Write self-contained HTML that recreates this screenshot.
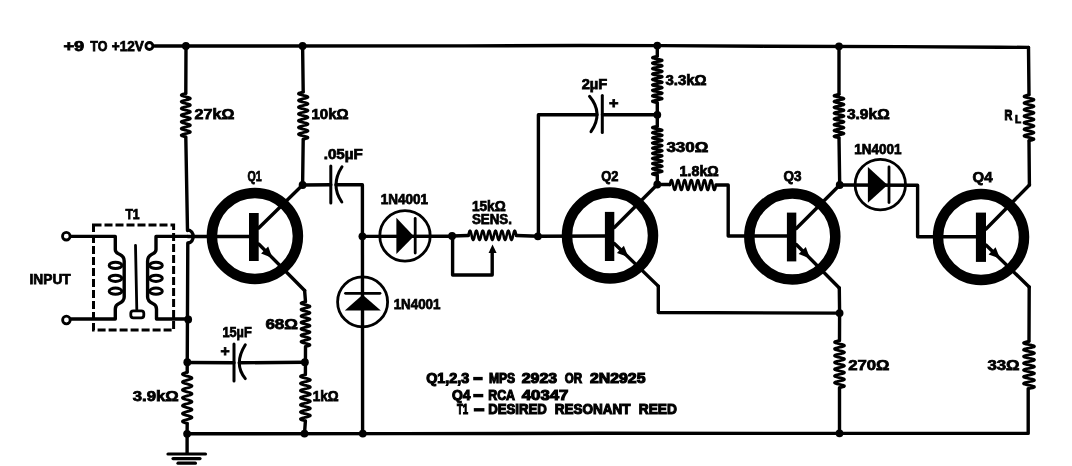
<!DOCTYPE html>
<html><head><meta charset="utf-8"><style>
html,body{margin:0;padding:0;background:#fff;}
body{width:1072px;height:466px;overflow:hidden;}
svg{display:block;filter:blur(0.4px);}
text{font-family:"Liberation Sans",sans-serif;fill:#000;}
</style></head><body>
<svg width="1072" height="466" viewBox="0 0 1072 466">
<rect width="1072" height="466" fill="#fff"/>
<path d="M154.5,46.0 L465.0,45.9 L580.0,45.5 L660.0,45.6 L765.0,46.2 L900.0,46.6 L1000.0,47.2 L1028.5,47.4" fill="none" stroke="#000" stroke-width="3.4" stroke-linejoin="round" stroke-linecap="round" />
<circle cx="149.4" cy="46" r="3.5" fill="none" stroke="#000" stroke-width="2.8"/>
<circle cx="185.9" cy="46" r="3.9" fill="#000"/>
<circle cx="302.6" cy="46" r="3.9" fill="#000"/>
<circle cx="657.3" cy="45.6" r="3.9" fill="#000"/>
<circle cx="839" cy="46.3" r="3.9" fill="#000"/>
<path d="M186.0,46.0 L185.8,93.4" fill="none" stroke="#000" stroke-width="3.4" stroke-linejoin="round" stroke-linecap="round" />
<path d="M185.80,93.40 L184.26,93.76 L182.91,94.13 L181.88,94.49 L181.30,94.85 L181.24,95.22 L181.70,95.58 L182.63,95.94 L183.93,96.31 L185.44,96.67 L186.99,97.03 L188.41,97.40 L189.52,97.76 L190.21,98.12 L190.39,98.49 L190.05,98.85 L189.22,99.21 L187.99,99.58 L186.52,99.94 L184.96,100.30 L183.50,100.67 L182.30,101.03 L181.51,101.39 L181.20,101.76 L181.43,102.12 L182.15,102.48 L183.29,102.85 L184.73,103.21 L186.28,103.57 L187.78,103.94 L189.05,104.30 L189.95,104.66 L190.37,105.03 L190.27,105.39 L189.66,105.75 L188.60,106.12 L187.22,106.48 L185.68,106.84 L184.15,107.21 L182.81,107.57 L181.82,107.93 L181.28,108.30 L181.26,108.66 L181.76,109.02 L182.72,109.39 L184.04,109.75 L185.56,110.11 L187.11,110.48 L188.50,110.84 L189.59,111.20 L190.24,111.57 L190.39,111.93 L190.00,112.29 L189.14,112.66 L187.89,113.02 L186.40,113.38 L184.84,113.75 L183.40,114.11 L182.23,114.47 L181.46,114.84 L181.20,115.20 L181.46,115.56 L182.23,115.93 L183.40,116.29 L184.84,116.65 L186.40,117.02 L187.89,117.38 L189.14,117.74 L190.00,118.11 L190.39,118.47 L190.24,118.83 L189.59,119.20 L188.50,119.56 L187.11,119.92 L185.56,120.29 L184.04,120.65 L182.72,121.01 L181.76,121.38 L181.26,121.74 L181.28,122.10 L181.82,122.47 L182.81,122.83 L184.15,123.19 L185.68,123.56 L187.22,123.92 L188.60,124.28 L189.66,124.65 L190.27,125.01 L190.37,125.37 L189.95,125.74 L189.05,126.10 L187.78,126.46 L186.28,126.83 L184.73,127.19 L183.29,127.55 L182.15,127.92 L181.43,128.28 L181.20,128.64 L181.51,129.01 L182.30,129.37 L183.50,129.73 L184.96,130.10 L186.52,130.46 L187.99,130.82 L189.22,131.19 L190.05,131.55 L190.39,131.91 L190.21,132.28 L189.52,132.64 L188.41,133.00 L186.99,133.37 L185.44,133.73 L183.93,134.09 L182.63,134.46 L181.70,134.82 L181.24,135.18 L181.30,135.55 L181.88,135.91 L182.91,136.27 L184.26,136.64 L185.80,137.00" fill="none" stroke="#000" stroke-width="2.8" stroke-linejoin="round" stroke-linecap="round"/>
<path d="M185.8,137.0 L187.5,230.5" fill="none" stroke="#000" stroke-width="3.4" stroke-linejoin="round" stroke-linecap="round" />
<path d="M187.5,230 C195,230 195,243 187.8,243" fill="none" stroke="#000" stroke-width="3.4"/>
<path d="M187.8,243.0 L187.2,372.2" fill="none" stroke="#000" stroke-width="3.4" stroke-linejoin="round" stroke-linecap="round" />
<path d="M187.20,372.20 L185.60,372.63 L184.18,373.05 L183.11,373.48 L182.50,373.91 L182.44,374.33 L182.92,374.76 L183.90,375.19 L185.25,375.61 L186.82,376.04 L188.44,376.47 L189.92,376.89 L191.08,377.32 L191.80,377.75 L191.99,378.17 L191.63,378.60 L190.77,379.03 L189.49,379.45 L187.95,379.88 L186.33,380.31 L184.80,380.73 L183.55,381.16 L182.72,381.59 L182.40,382.01 L182.63,382.44 L183.39,382.87 L184.59,383.29 L186.08,383.72 L187.70,384.15 L189.27,384.57 L190.59,385.00 L191.53,385.43 L191.97,385.85 L191.87,386.28 L191.23,386.71 L190.12,387.13 L188.68,387.56 L187.07,387.99 L185.48,388.41 L184.08,388.84 L183.04,389.27 L182.48,389.69 L182.46,390.12 L182.98,390.55 L183.99,390.97 L185.36,391.40 L186.95,391.83 L188.56,392.25 L190.02,392.68 L191.16,393.11 L191.84,393.53 L191.99,393.96 L191.59,394.39 L190.68,394.81 L189.38,395.24 L187.83,395.67 L186.20,396.09 L184.69,396.52 L183.47,396.95 L182.68,397.37 L182.40,397.80 L182.68,398.23 L183.47,398.65 L184.69,399.08 L186.20,399.51 L187.83,399.93 L189.38,400.36 L190.68,400.79 L191.59,401.21 L191.99,401.64 L191.84,402.07 L191.16,402.49 L190.02,402.92 L188.56,403.35 L186.95,403.77 L185.36,404.20 L183.99,404.63 L182.98,405.05 L182.46,405.48 L182.48,405.91 L183.04,406.33 L184.08,406.76 L185.48,407.19 L187.07,407.61 L188.68,408.04 L190.12,408.47 L191.23,408.89 L191.87,409.32 L191.97,409.75 L191.53,410.17 L190.59,410.60 L189.27,411.03 L187.70,411.45 L186.08,411.88 L184.59,412.31 L183.39,412.73 L182.63,413.16 L182.40,413.59 L182.72,414.01 L183.55,414.44 L184.80,414.87 L186.33,415.29 L187.95,415.72 L189.49,416.15 L190.77,416.57 L191.63,417.00 L191.99,417.43 L191.80,417.85 L191.08,418.28 L189.92,418.71 L188.44,419.13 L186.82,419.56 L185.25,419.99 L183.90,420.41 L182.92,420.84 L182.44,421.27 L182.50,421.69 L183.11,422.12 L184.18,422.55 L185.60,422.97 L187.20,423.40" fill="none" stroke="#000" stroke-width="2.8" stroke-linejoin="round" stroke-linecap="round"/>
<path d="M187.2,423.4 L187.1,433.8 L187.1,453.0" fill="none" stroke="#000" stroke-width="3.4" stroke-linejoin="round" stroke-linecap="round" />
<circle cx="188.2" cy="319.5" r="3.9" fill="#000"/>
<circle cx="187.3" cy="362.2" r="3.9" fill="#000"/>
<circle cx="187.1" cy="433.8" r="3.9" fill="#000"/>
<path d="M168.0,454.0 L205.5,454.0" fill="none" stroke="#000" stroke-width="3.2" stroke-linejoin="round" stroke-linecap="round" />
<path d="M173.0,458.6 L200.0,458.6" fill="none" stroke="#000" stroke-width="3.2" stroke-linejoin="round" stroke-linecap="round" />
<path d="M178.0,463.2 L195.4,463.2" fill="none" stroke="#000" stroke-width="3.2" stroke-linejoin="round" stroke-linecap="round" />
<path d="M187.1,433.8 L400.0,433.6 L600.0,433.3 L1028.2,433.4 L1028.2,388.6" fill="none" stroke="#000" stroke-width="3.4" stroke-linejoin="round" stroke-linecap="round" />
<circle cx="254.9" cy="236" r="43" fill="none" stroke="#000" stroke-width="10.5"/>
<rect x="249" y="213" width="9.699999999999989" height="48" fill="#000"/>
<path d="M258.7,228.0 L302.6,185.0" fill="none" stroke="#000" stroke-width="3.4" stroke-linejoin="round" stroke-linecap="round" />
<path d="M258.7,244.0 L304.6,290.5" fill="none" stroke="#000" stroke-width="3.4" stroke-linejoin="round" stroke-linecap="round" />
<path d="M272.4,257.9 L261.1,253.6 L268.2,246.5 Z" fill="#000"/>
<path d="M187.8,236.5 L249.0,236.5" fill="none" stroke="#000" stroke-width="3.4" stroke-linejoin="round" stroke-linecap="round" />
<path d="M302.6,46.0 L303.2,92.0" fill="none" stroke="#000" stroke-width="3.4" stroke-linejoin="round" stroke-linecap="round" />
<path d="M303.20,92.00 L301.48,92.39 L299.99,92.79 L298.92,93.18 L298.43,93.58 L298.56,93.97 L299.32,94.36 L300.59,94.76 L302.20,95.15 L303.95,95.55 L305.60,95.94 L306.93,96.34 L307.77,96.73 L307.99,97.12 L307.59,97.52 L306.59,97.91 L305.15,98.31 L303.45,98.70 L301.72,99.09 L300.18,99.49 L299.04,99.88 L298.46,100.28 L298.50,100.67 L299.17,101.07 L300.38,101.46 L301.96,101.85 L303.70,102.25 L305.38,102.64 L306.77,103.04 L307.68,103.43 L308.00,103.83 L307.68,104.22 L306.77,104.61 L305.38,105.01 L303.70,105.40 L301.96,105.80 L300.38,106.19 L299.17,106.58 L298.50,106.98 L298.46,107.37 L299.04,107.77 L300.18,108.16 L301.72,108.56 L303.45,108.95 L305.15,109.34 L306.59,109.74 L307.59,110.13 L307.99,110.53 L307.77,110.92 L306.93,111.31 L305.60,111.71 L303.95,112.10 L302.20,112.50 L300.59,112.89 L299.32,113.29 L298.56,113.68 L298.43,114.07 L298.92,114.47 L299.99,114.86 L301.48,115.26 L303.20,115.65 L304.92,116.04 L306.41,116.44 L307.48,116.83 L307.97,117.23 L307.84,117.62 L307.08,118.02 L305.81,118.41 L304.20,118.80 L302.45,119.20 L300.80,119.59 L299.47,119.99 L298.63,120.38 L298.41,120.77 L298.81,121.17 L299.81,121.56 L301.25,121.96 L302.95,122.35 L304.68,122.75 L306.22,123.14 L307.36,123.53 L307.94,123.93 L307.90,124.32 L307.23,124.72 L306.02,125.11 L304.44,125.50 L302.70,125.90 L301.02,126.29 L299.63,126.69 L298.72,127.08 L298.40,127.48 L298.72,127.87 L299.63,128.26 L301.02,128.66 L302.70,129.05 L304.44,129.45 L306.02,129.84 L307.23,130.23 L307.90,130.63 L307.94,131.02 L307.36,131.42 L306.22,131.81 L304.68,132.21 L302.95,132.60 L301.25,132.99 L299.81,133.39 L298.81,133.78 L298.41,134.18 L298.63,134.57 L299.47,134.96 L300.80,135.36 L302.45,135.75 L304.20,136.15 L305.81,136.54 L307.08,136.94 L307.84,137.33 L307.97,137.72 L307.48,138.12 L306.41,138.51 L304.92,138.91 L303.20,139.30" fill="none" stroke="#000" stroke-width="2.8" stroke-linejoin="round" stroke-linecap="round"/>
<path d="M303.2,139.3 L302.6,185.0" fill="none" stroke="#000" stroke-width="3.4" stroke-linejoin="round" stroke-linecap="round" />
<circle cx="302.6" cy="185" r="3.9" fill="#000"/>
<path d="M304.6,290.5 L305.5,301.6" fill="none" stroke="#000" stroke-width="3.4" stroke-linejoin="round" stroke-linecap="round" />
<path d="M305.50,301.60 L303.89,301.98 L302.49,302.35 L301.49,302.73 L301.02,303.10 L301.15,303.48 L301.86,303.85 L303.05,304.23 L304.56,304.60 L306.20,304.98 L307.75,305.35 L309.00,305.73 L309.78,306.10 L309.99,306.48 L309.61,306.85 L308.68,307.23 L307.33,307.60 L305.74,307.98 L304.11,308.35 L302.67,308.73 L301.60,309.10 L301.06,309.48 L301.10,309.85 L301.73,310.23 L302.85,310.60 L304.34,310.98 L305.97,311.35 L307.54,311.73 L308.84,312.10 L309.70,312.48 L310.00,312.85 L309.70,313.23 L308.84,313.60 L307.54,313.98 L305.97,314.35 L304.34,314.73 L302.85,315.10 L301.73,315.48 L301.10,315.85 L301.06,316.23 L301.60,316.60 L302.67,316.98 L304.11,317.35 L305.74,317.73 L307.33,318.10 L308.68,318.48 L309.61,318.85 L309.99,319.23 L309.78,319.60 L309.00,319.98 L307.75,320.35 L306.20,320.73 L304.56,321.10 L303.05,321.48 L301.86,321.85 L301.15,322.23 L301.02,322.60 L301.49,322.98 L302.49,323.35 L303.89,323.73 L305.50,324.10 L307.11,324.48 L308.51,324.85 L309.51,325.23 L309.98,325.60 L309.85,325.98 L309.14,326.35 L307.95,326.73 L306.44,327.10 L304.80,327.48 L303.25,327.85 L302.00,328.23 L301.22,328.60 L301.01,328.98 L301.39,329.35 L302.32,329.73 L303.67,330.10 L305.26,330.48 L306.89,330.85 L308.33,331.23 L309.40,331.60 L309.94,331.98 L309.90,332.35 L309.27,332.73 L308.15,333.10 L306.66,333.48 L305.03,333.85 L303.46,334.23 L302.16,334.60 L301.30,334.98 L301.00,335.35 L301.30,335.73 L302.16,336.10 L303.46,336.48 L305.03,336.85 L306.66,337.23 L308.15,337.60 L309.27,337.98 L309.90,338.35 L309.94,338.73 L309.40,339.10 L308.33,339.48 L306.89,339.85 L305.26,340.23 L303.67,340.60 L302.32,340.98 L301.39,341.35 L301.01,341.73 L301.22,342.10 L302.00,342.48 L303.25,342.85 L304.80,343.23 L306.44,343.60 L307.95,343.98 L309.14,344.35 L309.85,344.73 L309.98,345.10 L309.51,345.48 L308.51,345.85 L307.11,346.23 L305.50,346.60" fill="none" stroke="#000" stroke-width="2.8" stroke-linejoin="round" stroke-linecap="round"/>
<path d="M305.5,346.6 L305.4,374.6" fill="none" stroke="#000" stroke-width="3.4" stroke-linejoin="round" stroke-linecap="round" />
<path d="M305.40,374.60 L303.73,374.99 L302.25,375.37 L301.14,375.76 L300.51,376.14 L300.44,376.53 L300.94,376.92 L301.96,377.30 L303.37,377.69 L305.01,378.07 L306.69,378.46 L308.23,378.84 L309.45,379.23 L310.19,379.62 L310.39,380.00 L310.02,380.39 L309.12,380.77 L307.79,381.16 L306.18,381.55 L304.49,381.93 L302.90,382.32 L301.60,382.70 L300.73,383.09 L300.40,383.47 L300.64,383.86 L301.43,384.25 L302.68,384.63 L304.23,385.02 L305.92,385.40 L307.55,385.79 L308.94,386.18 L309.91,386.56 L310.37,386.95 L310.26,387.33 L309.59,387.72 L308.44,388.10 L306.95,388.49 L305.27,388.88 L303.61,389.26 L302.15,389.65 L301.07,390.03 L300.48,390.42 L300.46,390.81 L301.01,391.19 L302.05,391.58 L303.49,391.96 L305.14,392.35 L306.82,392.73 L308.34,393.12 L309.52,393.51 L310.23,393.89 L310.38,394.28 L309.97,394.66 L309.03,395.05 L307.67,395.44 L306.05,395.82 L304.36,396.21 L302.79,396.59 L301.51,396.98 L300.69,397.36 L300.40,397.75 L300.69,398.14 L301.51,398.52 L302.79,398.91 L304.36,399.29 L306.05,399.68 L307.67,400.06 L309.03,400.45 L309.97,400.84 L310.38,401.22 L310.23,401.61 L309.52,401.99 L308.34,402.38 L306.82,402.77 L305.14,403.15 L303.49,403.54 L302.05,403.92 L301.01,404.31 L300.46,404.69 L300.48,405.08 L301.07,405.47 L302.15,405.85 L303.61,406.24 L305.27,406.62 L306.95,407.01 L308.44,407.40 L309.59,407.78 L310.26,408.17 L310.37,408.55 L309.91,408.94 L308.94,409.32 L307.55,409.71 L305.92,410.10 L304.23,410.48 L302.68,410.87 L301.43,411.25 L300.64,411.64 L300.40,412.03 L300.73,412.41 L301.60,412.80 L302.90,413.18 L304.49,413.57 L306.18,413.95 L307.79,414.34 L309.12,414.73 L310.02,415.11 L310.39,415.50 L310.19,415.88 L309.45,416.27 L308.23,416.66 L306.69,417.04 L305.01,417.43 L303.37,417.81 L301.96,418.20 L300.94,418.58 L300.44,418.97 L300.51,419.36 L301.14,419.74 L302.25,420.13 L303.73,420.51 L305.40,420.90" fill="none" stroke="#000" stroke-width="2.8" stroke-linejoin="round" stroke-linecap="round"/>
<path d="M305.4,420.9 L304.5,433.6" fill="none" stroke="#000" stroke-width="3.4" stroke-linejoin="round" stroke-linecap="round" />
<circle cx="304.9" cy="362.2" r="3.9" fill="#000"/>
<circle cx="304.5" cy="433.6" r="3.9" fill="#000"/>
<path d="M187.3,362.5 L234.0,362.8" fill="none" stroke="#000" stroke-width="3.4" stroke-linejoin="round" stroke-linecap="round" />
<path d="M239.3,362.8 L304.9,362.2" fill="none" stroke="#000" stroke-width="3.4" stroke-linejoin="round" stroke-linecap="round" />
<path d="M234.0,344.0 L234.0,381.0" fill="none" stroke="#000" stroke-width="3" stroke-linejoin="round" stroke-linecap="round" />
<path d="M245.3,344.8 Q233.3,364.1 245.3,378.6" fill="none" stroke="#000" stroke-width="3" stroke-linecap="round"/>
<path d="M302.6,185.0 L330.8,184.8" fill="none" stroke="#000" stroke-width="3.4" stroke-linejoin="round" stroke-linecap="round" />
<path d="M330.8,166.0 L330.8,202.9" fill="none" stroke="#000" stroke-width="3" stroke-linejoin="round" stroke-linecap="round" />
<path d="M342.0,166.8 Q330.1,185.2 341.8,202.0" fill="none" stroke="#000" stroke-width="3" stroke-linecap="round"/>
<path d="M336.0,184.8 L362.4,184.8 L362.6,433.6" fill="none" stroke="#000" stroke-width="3.4" stroke-linejoin="round" stroke-linecap="round" />
<circle cx="362.4" cy="236.3" r="3.9" fill="#000"/>
<circle cx="362.8" cy="433.6" r="3.9" fill="#000"/>
<circle cx="405" cy="235.9" r="25.2" fill="none" stroke="#000" stroke-width="2.8"/>
<path d="M362.4,236.4 L452.0,236.2" fill="none" stroke="#000" stroke-width="3.4" stroke-linejoin="round" stroke-linecap="round" />
<path d="M396.4,217.7 L413.8,236.2 L396.4,254 Z" fill="#000"/>
<path d="M415.2,218.5 L415.2,253.0" fill="none" stroke="#000" stroke-width="2.8" stroke-linejoin="round" stroke-linecap="round" />
<circle cx="362.6" cy="301.9" r="25" fill="none" stroke="#000" stroke-width="2.8"/>
<path d="M344.8,310.5 L380.8,310.5 L362.6,294.7 Z" fill="#000"/>
<path d="M345.5,293.3 L380.0,293.3" fill="none" stroke="#000" stroke-width="2.8" stroke-linejoin="round" stroke-linecap="round" />
<circle cx="452.1" cy="236" r="3.9" fill="#000"/>
<path d="M452.6,236.0 L452.6,275.0 L492.2,275.0 L492.2,250.0" fill="none" stroke="#000" stroke-width="3.4" stroke-linejoin="round" stroke-linecap="round" />
<path d="M492.5,244.5 L488.6,253 L496.6,253 Z" fill="#000"/>
<path d="M452.0,236.0 L468.4,235.5" fill="none" stroke="#000" stroke-width="3.4" stroke-linejoin="round" stroke-linecap="round" />
<path d="M468.40,235.30 L468.80,233.54 L469.20,232.05 L469.60,231.05 L470.00,230.70 L470.40,231.05 L470.79,232.05 L471.19,233.54 L471.59,235.30 L471.99,237.06 L472.39,238.55 L472.79,239.55 L473.19,239.90 L473.59,239.55 L473.99,238.55 L474.39,237.06 L474.79,235.30 L475.19,233.54 L475.58,232.05 L475.98,231.05 L476.38,230.70 L476.78,231.05 L477.18,232.05 L477.58,233.54 L477.98,235.30 L478.38,237.06 L478.78,238.55 L479.18,239.55 L479.58,239.90 L479.98,239.55 L480.38,238.55 L480.77,237.06 L481.17,235.30 L481.57,233.54 L481.97,232.05 L482.37,231.05 L482.77,230.70 L483.17,231.05 L483.57,232.05 L483.97,233.54 L484.37,235.30 L484.77,237.06 L485.16,238.55 L485.56,239.55 L485.96,239.90 L486.36,239.55 L486.76,238.55 L487.16,237.06 L487.56,235.30 L487.96,233.54 L488.36,232.05 L488.76,231.05 L489.16,230.70 L489.56,231.05 L489.95,232.05 L490.35,233.54 L490.75,235.30 L491.15,237.06 L491.55,238.55 L491.95,239.55 L492.35,239.90 L492.75,239.55 L493.15,238.55 L493.55,237.06 L493.95,235.30 L494.35,233.54 L494.74,232.05 L495.14,231.05 L495.54,230.70 L495.94,231.05 L496.34,232.05 L496.74,233.54 L497.14,235.30 L497.54,237.06 L497.94,238.55 L498.34,239.55 L498.74,239.90 L499.14,239.55 L499.53,238.55 L499.93,237.06 L500.33,235.30 L500.73,233.54 L501.13,232.05 L501.53,231.05 L501.93,230.70 L502.33,231.05 L502.73,232.05 L503.13,233.54 L503.53,235.30 L503.93,237.06 L504.32,238.55 L504.72,239.55 L505.12,239.90 L505.52,239.55 L505.92,238.55 L506.32,237.06 L506.72,235.30 L507.12,233.54 L507.52,232.05 L507.92,231.05 L508.32,230.70 L508.72,231.05 L509.11,232.05 L509.51,233.54 L509.91,235.30 L510.31,237.06 L510.71,238.55 L511.11,239.55 L511.51,239.90 L511.91,239.55 L512.31,238.55 L512.71,237.06 L513.11,235.30 L513.51,233.54 L513.90,232.05 L514.30,231.05 L514.70,230.70 L515.10,231.05 L515.50,232.05 L515.90,233.54 L516.30,235.30" fill="none" stroke="#000" stroke-width="2.6" stroke-linejoin="round" stroke-linecap="round"/>
<path d="M516.3,235.5 L538.0,236.2" fill="none" stroke="#000" stroke-width="3.4" stroke-linejoin="round" stroke-linecap="round" />
<circle cx="537.9" cy="236.3" r="3.9" fill="#000"/>
<path d="M538.4,236.0 L538.4,114.8 L597.0,114.8" fill="none" stroke="#000" stroke-width="3.4" stroke-linejoin="round" stroke-linecap="round" />
<path d="M602.3,95.6 L602.3,132.4" fill="none" stroke="#000" stroke-width="3" stroke-linejoin="round" stroke-linecap="round" />
<path d="M589.5,96.3 Q603.8,113.2 591.0,131.7" fill="none" stroke="#000" stroke-width="3" stroke-linecap="round"/>
<path d="M602.5,114.8 L657.3,114.8" fill="none" stroke="#000" stroke-width="3.4" stroke-linejoin="round" stroke-linecap="round" />
<circle cx="657.3" cy="114.8" r="3.9" fill="#000"/>
<path d="M538.0,236.2 L605.0,236.0" fill="none" stroke="#000" stroke-width="3.4" stroke-linejoin="round" stroke-linecap="round" />
<path d="M657.3,45.6 L657.3,56.3" fill="none" stroke="#000" stroke-width="3.4" stroke-linejoin="round" stroke-linecap="round" />
<path d="M657.30,56.30 L655.15,56.69 L653.41,57.07 L652.44,57.46 L652.41,57.85 L653.33,58.23 L655.03,58.62 L657.17,59.01 L659.33,59.39 L661.10,59.78 L662.13,60.17 L662.22,60.55 L661.35,60.94 L659.69,61.33 L657.56,61.71 L655.39,62.10 L653.58,62.49 L652.51,62.87 L652.36,63.26 L653.18,63.65 L654.80,64.03 L656.91,64.42 L659.09,64.81 L660.93,65.19 L662.06,65.58 L662.26,65.97 L661.49,66.35 L659.91,66.74 L657.82,67.13 L655.63,67.51 L653.76,67.90 L652.59,68.29 L652.33,68.67 L653.04,69.06 L654.58,69.45 L656.65,69.83 L658.85,70.22 L660.74,70.61 L661.97,70.99 L662.28,71.38 L661.63,71.77 L660.13,72.15 L658.08,72.54 L655.88,72.93 L653.95,73.31 L652.68,73.70 L652.31,74.09 L652.91,74.47 L654.36,74.86 L656.39,75.25 L658.59,75.63 L660.55,76.02 L661.87,76.41 L662.30,76.79 L661.76,77.18 L660.34,77.57 L658.34,77.95 L656.13,78.34 L654.15,78.73 L652.79,79.11 L652.30,79.50 L652.79,79.89 L654.15,80.27 L656.13,80.66 L658.34,81.05 L660.34,81.43 L661.76,81.82 L662.30,82.21 L661.87,82.59 L660.55,82.98 L658.59,83.37 L656.39,83.75 L654.36,84.14 L652.91,84.53 L652.31,84.91 L652.68,85.30 L653.95,85.69 L655.88,86.07 L658.08,86.46 L660.13,86.85 L661.63,87.23 L662.28,87.62 L661.97,88.01 L660.74,88.39 L658.85,88.78 L656.65,89.17 L654.58,89.55 L653.04,89.94 L652.33,90.33 L652.59,90.71 L653.76,91.10 L655.63,91.49 L657.82,91.87 L659.91,92.26 L661.49,92.65 L662.26,93.03 L662.06,93.42 L660.93,93.81 L659.09,94.19 L656.91,94.58 L654.80,94.97 L653.18,95.35 L652.36,95.74 L652.51,96.13 L653.58,96.51 L655.39,96.90 L657.56,97.29 L659.69,97.67 L661.35,98.06 L662.22,98.45 L662.13,98.83 L661.10,99.22 L659.33,99.61 L657.17,99.99 L655.03,100.38 L653.33,100.77 L652.41,101.15 L652.44,101.54 L653.41,101.93 L655.15,102.31 L657.30,102.70" fill="none" stroke="#000" stroke-width="2.8" stroke-linejoin="round" stroke-linecap="round"/>
<path d="M657.3,102.7 L657.3,126.3" fill="none" stroke="#000" stroke-width="3.4" stroke-linejoin="round" stroke-linecap="round" />
<path d="M657.30,126.30 L654.91,126.71 L653.11,127.11 L652.32,127.52 L652.73,127.93 L654.26,128.34 L656.52,128.75 L658.97,129.15 L661.02,129.56 L662.16,129.97 L662.13,130.38 L660.93,130.78 L658.85,131.19 L656.39,131.60 L654.15,132.00 L652.68,132.41 L652.33,132.82 L653.18,133.23 L655.03,133.63 L657.43,134.04 L659.80,134.45 L661.56,134.86 L662.29,135.26 L661.81,135.67 L660.24,136.08 L657.95,136.49 L655.51,136.89 L653.50,137.30 L652.41,137.71 L652.51,138.12 L653.76,138.53 L655.88,138.93 L658.34,139.34 L660.55,139.75 L661.97,140.16 L662.26,140.56 L661.35,140.97 L659.45,141.38 L657.04,141.78 L654.69,142.19 L652.97,142.60 L652.30,143.01 L652.84,143.41 L654.47,143.82 L656.78,144.23 L659.21,144.64 L661.19,145.04 L662.22,145.45 L662.06,145.86 L660.74,146.27 L658.59,146.67 L656.13,147.08 L653.95,147.49 L652.59,147.90 L652.36,148.31 L653.33,148.71 L655.27,149.12 L657.69,149.53 L660.02,149.94 L661.69,150.34 L662.30,150.75 L661.69,151.16 L660.02,151.56 L657.69,151.97 L655.27,152.38 L653.33,152.79 L652.36,153.19 L652.59,153.60 L653.95,154.01 L656.13,154.42 L658.59,154.82 L660.74,155.23 L662.06,155.64 L662.22,156.05 L661.19,156.45 L659.21,156.86 L656.78,157.27 L654.47,157.68 L652.84,158.08 L652.30,158.49 L652.97,158.90 L654.69,159.31 L657.04,159.71 L659.45,160.12 L661.35,160.53 L662.26,160.94 L661.97,161.34 L660.55,161.75 L658.34,162.16 L655.88,162.57 L653.76,162.97 L652.51,163.38 L652.41,163.79 L653.50,164.20 L655.51,164.60 L657.95,165.01 L660.24,165.42 L661.81,165.83 L662.29,166.23 L661.56,166.64 L659.80,167.05 L657.43,167.46 L655.03,167.86 L653.18,168.27 L652.33,168.68 L652.68,169.09 L654.15,169.50 L656.39,169.90 L658.85,170.31 L660.93,170.72 L662.13,171.12 L662.16,171.53 L661.02,171.94 L658.97,172.35 L656.52,172.75 L654.26,173.16 L652.73,173.57 L652.32,173.98 L653.11,174.38 L654.91,174.79 L657.30,175.20" fill="none" stroke="#000" stroke-width="2.8" stroke-linejoin="round" stroke-linecap="round"/>
<path d="M657.3,175.2 L657.3,184.5" fill="none" stroke="#000" stroke-width="3.4" stroke-linejoin="round" stroke-linecap="round" />
<circle cx="657.3" cy="184.5" r="3.9" fill="#000"/>
<circle cx="610" cy="235.5" r="43" fill="none" stroke="#000" stroke-width="10.5"/>
<rect x="604.9" y="211.9" width="9.399999999999977" height="49.099999999999994" fill="#000"/>
<path d="M614.3,227.5 L657.3,184.5" fill="none" stroke="#000" stroke-width="3.4" stroke-linejoin="round" stroke-linecap="round" />
<path d="M614.3,243.5 L658.3,286.1" fill="none" stroke="#000" stroke-width="3.4" stroke-linejoin="round" stroke-linecap="round" />
<path d="M628.3,257.1 L616.9,253.0 L623.9,245.8 Z" fill="#000"/>
<path d="M658.3,286.1 L658.3,312.5 L839.6,313.1" fill="none" stroke="#000" stroke-width="3.4" stroke-linejoin="round" stroke-linecap="round" />
<path d="M657.3,184.5 L669.8,184.5" fill="none" stroke="#000" stroke-width="3.4" stroke-linejoin="round" stroke-linecap="round" />
<path d="M669.80,185.00 L670.18,183.21 L670.57,181.65 L670.95,180.54 L671.34,180.03 L671.72,180.17 L672.11,180.95 L672.50,182.28 L672.88,183.96 L673.26,185.78 L673.65,187.50 L674.03,188.89 L674.42,189.76 L674.80,189.99 L675.19,189.57 L675.57,188.54 L675.96,187.03 L676.34,185.26 L676.73,183.45 L677.12,181.85 L677.50,180.67 L677.88,180.06 L678.27,180.11 L678.65,180.81 L679.04,182.06 L679.42,183.71 L679.81,185.52 L680.19,187.27 L680.58,188.72 L680.96,189.67 L681.35,190.00 L681.74,189.67 L682.12,188.72 L682.50,187.27 L682.89,185.52 L683.27,183.71 L683.66,182.06 L684.04,180.81 L684.43,180.11 L684.81,180.06 L685.20,180.67 L685.58,181.85 L685.97,183.45 L686.36,185.26 L686.74,187.03 L687.12,188.54 L687.51,189.57 L687.89,189.99 L688.28,189.76 L688.66,188.89 L689.05,187.50 L689.43,185.78 L689.82,183.96 L690.20,182.28 L690.59,180.95 L690.98,180.17 L691.36,180.03 L691.75,180.54 L692.13,181.65 L692.51,183.21 L692.90,185.00 L693.28,186.79 L693.67,188.35 L694.05,189.46 L694.44,189.97 L694.82,189.83 L695.21,189.05 L695.60,187.72 L695.98,186.04 L696.37,184.22 L696.75,182.50 L697.13,181.11 L697.52,180.24 L697.90,180.01 L698.29,180.43 L698.67,181.46 L699.06,182.97 L699.44,184.74 L699.83,186.55 L700.22,188.15 L700.60,189.33 L700.99,189.94 L701.37,189.89 L701.75,189.19 L702.14,187.94 L702.52,186.29 L702.91,184.48 L703.29,182.73 L703.68,181.28 L704.06,180.33 L704.45,180.00 L704.84,180.33 L705.22,181.28 L705.61,182.73 L705.99,184.48 L706.38,186.29 L706.76,187.94 L707.14,189.19 L707.53,189.89 L707.91,189.94 L708.30,189.33 L708.68,188.15 L709.07,186.55 L709.46,184.74 L709.84,182.97 L710.23,181.46 L710.61,180.43 L711.00,180.01 L711.38,180.24 L711.76,181.11 L712.15,182.50 L712.53,184.22 L712.92,186.04 L713.30,187.72 L713.69,189.05 L714.08,189.83 L714.46,189.97 L714.85,189.46 L715.23,188.35 L715.62,186.79 L716.00,185.00" fill="none" stroke="#000" stroke-width="2.6" stroke-linejoin="round" stroke-linecap="round"/>
<path d="M716.0,185.0 L728.2,185.0 L728.2,236.0 L786.9,236.0" fill="none" stroke="#000" stroke-width="3.4" stroke-linejoin="round" stroke-linecap="round" />
<circle cx="792.3" cy="236.5" r="43" fill="none" stroke="#000" stroke-width="10.5"/>
<rect x="786.9" y="212.6" width="9.399999999999977" height="48.79999999999998" fill="#000"/>
<path d="M796.3,228.5 L839.7,185.0" fill="none" stroke="#000" stroke-width="3.4" stroke-linejoin="round" stroke-linecap="round" />
<path d="M796.3,244.5 L839.3,288.0" fill="none" stroke="#000" stroke-width="3.4" stroke-linejoin="round" stroke-linecap="round" />
<path d="M810.0,258.4 L798.7,254.1 L805.8,247.0 Z" fill="#000"/>
<path d="M839.0,46.3 L839.0,94.3" fill="none" stroke="#000" stroke-width="3.4" stroke-linejoin="round" stroke-linecap="round" />
<path d="M839.00,94.30 L837.09,94.66 L835.46,95.02 L834.38,95.39 L834.00,95.75 L834.38,96.11 L835.46,96.47 L837.09,96.84 L839.00,97.20 L840.91,97.56 L842.54,97.92 L843.62,98.29 L844.00,98.65 L843.62,99.01 L842.54,99.38 L840.91,99.74 L839.00,100.10 L837.09,100.46 L835.46,100.83 L834.38,101.19 L834.00,101.55 L834.38,101.91 L835.46,102.28 L837.09,102.64 L839.00,103.00 L840.91,103.36 L842.54,103.72 L843.62,104.09 L844.00,104.45 L843.62,104.81 L842.54,105.17 L840.91,105.54 L839.00,105.90 L837.09,106.26 L835.46,106.62 L834.38,106.99 L834.00,107.35 L834.38,107.71 L835.46,108.08 L837.09,108.44 L839.00,108.80 L840.91,109.16 L842.54,109.53 L843.62,109.89 L844.00,110.25 L843.62,110.61 L842.54,110.98 L840.91,111.34 L839.00,111.70 L837.09,112.06 L835.46,112.43 L834.38,112.79 L834.00,113.15 L834.38,113.51 L835.46,113.88 L837.09,114.24 L839.00,114.60 L840.91,114.96 L842.54,115.33 L843.62,115.69 L844.00,116.05 L843.62,116.41 L842.54,116.78 L840.91,117.14 L839.00,117.50 L837.09,117.86 L835.46,118.23 L834.38,118.59 L834.00,118.95 L834.38,119.31 L835.46,119.68 L837.09,120.04 L839.00,120.40 L840.91,120.76 L842.54,121.12 L843.62,121.49 L844.00,121.85 L843.62,122.21 L842.54,122.58 L840.91,122.94 L839.00,123.30 L837.09,123.66 L835.46,124.03 L834.38,124.39 L834.00,124.75 L834.38,125.11 L835.46,125.48 L837.09,125.84 L839.00,126.20 L840.91,126.56 L842.54,126.93 L843.62,127.29 L844.00,127.65 L843.62,128.01 L842.54,128.38 L840.91,128.74 L839.00,129.10 L837.09,129.46 L835.46,129.83 L834.38,130.19 L834.00,130.55 L834.38,130.91 L835.46,131.28 L837.09,131.64 L839.00,132.00 L840.91,132.36 L842.54,132.73 L843.62,133.09 L844.00,133.45 L843.62,133.81 L842.54,134.18 L840.91,134.54 L839.00,134.90 L837.09,135.26 L835.46,135.62 L834.38,135.99 L834.00,136.35 L834.38,136.71 L835.46,137.08 L837.09,137.44 L839.00,137.80" fill="none" stroke="#000" stroke-width="2.8" stroke-linejoin="round" stroke-linecap="round"/>
<path d="M839.0,137.8 L839.7,185.0" fill="none" stroke="#000" stroke-width="3.4" stroke-linejoin="round" stroke-linecap="round" />
<circle cx="839.7" cy="185" r="3.9" fill="#000"/>
<path d="M839.3,288.0 L839.6,313.1 L839.5,340.5" fill="none" stroke="#000" stroke-width="3.4" stroke-linejoin="round" stroke-linecap="round" />
<circle cx="839.6" cy="313.1" r="3.9" fill="#000"/>
<path d="M839.50,340.50 L837.71,340.89 L836.15,341.29 L835.04,341.68 L834.53,342.08 L834.67,342.47 L835.45,342.87 L836.78,343.26 L838.46,343.65 L840.28,344.05 L842.00,344.44 L843.39,344.84 L844.26,345.23 L844.49,345.62 L844.07,346.02 L843.04,346.41 L841.53,346.81 L839.76,347.20 L837.95,347.60 L836.35,347.99 L835.17,348.38 L834.56,348.78 L834.61,349.17 L835.31,349.57 L836.56,349.96 L838.21,350.35 L840.02,350.75 L841.77,351.14 L843.22,351.54 L844.17,351.93 L844.50,352.32 L844.17,352.72 L843.22,353.11 L841.77,353.51 L840.02,353.90 L838.21,354.30 L836.56,354.69 L835.31,355.08 L834.61,355.48 L834.56,355.87 L835.17,356.27 L836.35,356.66 L837.95,357.06 L839.76,357.45 L841.53,357.84 L843.04,358.24 L844.07,358.63 L844.49,359.03 L844.26,359.42 L843.39,359.81 L842.00,360.21 L840.28,360.60 L838.46,361.00 L836.78,361.39 L835.45,361.79 L834.67,362.18 L834.53,362.57 L835.04,362.97 L836.15,363.36 L837.71,363.76 L839.50,364.15 L841.29,364.54 L842.85,364.94 L843.96,365.33 L844.47,365.73 L844.33,366.12 L843.55,366.51 L842.22,366.91 L840.54,367.30 L838.72,367.70 L837.00,368.09 L835.61,368.49 L834.74,368.88 L834.51,369.27 L834.93,369.67 L835.96,370.06 L837.47,370.46 L839.24,370.85 L841.05,371.25 L842.65,371.64 L843.83,372.03 L844.44,372.43 L844.39,372.82 L843.69,373.22 L842.44,373.61 L840.79,374.00 L838.98,374.40 L837.23,374.79 L835.78,375.19 L834.83,375.58 L834.50,375.98 L834.83,376.37 L835.78,376.76 L837.23,377.16 L838.98,377.55 L840.79,377.95 L842.44,378.34 L843.69,378.73 L844.39,379.13 L844.44,379.52 L843.83,379.92 L842.65,380.31 L841.05,380.70 L839.24,381.10 L837.47,381.49 L835.96,381.89 L834.93,382.28 L834.51,382.68 L834.74,383.07 L835.61,383.46 L837.00,383.86 L838.72,384.25 L840.54,384.65 L842.22,385.04 L843.55,385.44 L844.33,385.83 L844.47,386.22 L843.96,386.62 L842.85,387.01 L841.29,387.41 L839.50,387.80" fill="none" stroke="#000" stroke-width="2.8" stroke-linejoin="round" stroke-linecap="round"/>
<path d="M839.5,387.8 L839.5,433.3" fill="none" stroke="#000" stroke-width="3.4" stroke-linejoin="round" stroke-linecap="round" />
<circle cx="839.5" cy="433.3" r="3.9" fill="#000"/>
<circle cx="880.3" cy="184.6" r="25.2" fill="none" stroke="#000" stroke-width="2.8"/>
<path d="M839.7,185.0 L917.6,185.2 L917.6,236.7 L975.9,236.7" fill="none" stroke="#000" stroke-width="3.4" stroke-linejoin="round" stroke-linecap="round" />
<path d="M867.9,167.1 L887.5,184.9 L867.9,202.8 Z" fill="#000"/>
<path d="M889.0,167.0 L889.0,202.5" fill="none" stroke="#000" stroke-width="2.8" stroke-linejoin="round" stroke-linecap="round" />
<circle cx="981" cy="237" r="43" fill="none" stroke="#000" stroke-width="10.5"/>
<rect x="975.9" y="212.6" width="10.100000000000023" height="49.29999999999998" fill="#000"/>
<path d="M986.0,229.0 L1029.4,185.0" fill="none" stroke="#000" stroke-width="3.4" stroke-linejoin="round" stroke-linecap="round" />
<path d="M986.0,245.0 L1029.2,287.0" fill="none" stroke="#000" stroke-width="3.4" stroke-linejoin="round" stroke-linecap="round" />
<path d="M1000.0,258.6 L988.6,254.5 L995.6,247.3 Z" fill="#000"/>
<path d="M1029.4,185.0 L1029.0,140.8" fill="none" stroke="#000" stroke-width="3.4" stroke-linejoin="round" stroke-linecap="round" />
<path d="M1029.00,94.80 L1027.21,95.18 L1025.65,95.57 L1024.54,95.95 L1024.03,96.33 L1024.17,96.72 L1024.95,97.10 L1026.28,97.48 L1027.96,97.87 L1029.78,98.25 L1031.50,98.63 L1032.89,99.02 L1033.76,99.40 L1033.99,99.78 L1033.57,100.17 L1032.54,100.55 L1031.03,100.93 L1029.26,101.32 L1027.45,101.70 L1025.85,102.08 L1024.67,102.47 L1024.06,102.85 L1024.11,103.23 L1024.81,103.62 L1026.06,104.00 L1027.71,104.38 L1029.52,104.77 L1031.27,105.15 L1032.72,105.53 L1033.67,105.92 L1034.00,106.30 L1033.67,106.68 L1032.72,107.07 L1031.27,107.45 L1029.52,107.83 L1027.71,108.22 L1026.06,108.60 L1024.81,108.98 L1024.11,109.37 L1024.06,109.75 L1024.67,110.13 L1025.85,110.52 L1027.45,110.90 L1029.26,111.28 L1031.03,111.67 L1032.54,112.05 L1033.57,112.43 L1033.99,112.82 L1033.76,113.20 L1032.89,113.58 L1031.50,113.97 L1029.78,114.35 L1027.96,114.73 L1026.28,115.12 L1024.95,115.50 L1024.17,115.88 L1024.03,116.27 L1024.54,116.65 L1025.65,117.03 L1027.21,117.42 L1029.00,117.80 L1030.79,118.18 L1032.35,118.57 L1033.46,118.95 L1033.97,119.33 L1033.83,119.72 L1033.05,120.10 L1031.72,120.48 L1030.04,120.87 L1028.22,121.25 L1026.50,121.63 L1025.11,122.02 L1024.24,122.40 L1024.01,122.78 L1024.43,123.17 L1025.46,123.55 L1026.97,123.93 L1028.74,124.32 L1030.55,124.70 L1032.15,125.08 L1033.33,125.47 L1033.94,125.85 L1033.89,126.23 L1033.19,126.62 L1031.94,127.00 L1030.29,127.38 L1028.48,127.77 L1026.73,128.15 L1025.28,128.53 L1024.33,128.92 L1024.00,129.30 L1024.33,129.68 L1025.28,130.07 L1026.73,130.45 L1028.48,130.83 L1030.29,131.22 L1031.94,131.60 L1033.19,131.98 L1033.89,132.37 L1033.94,132.75 L1033.33,133.13 L1032.15,133.52 L1030.55,133.90 L1028.74,134.28 L1026.97,134.67 L1025.46,135.05 L1024.43,135.43 L1024.01,135.82 L1024.24,136.20 L1025.11,136.58 L1026.50,136.97 L1028.22,137.35 L1030.04,137.73 L1031.72,138.12 L1033.05,138.50 L1033.83,138.88 L1033.97,139.27 L1033.46,139.65 L1032.35,140.03 L1030.79,140.42 L1029.00,140.80" fill="none" stroke="#000" stroke-width="2.8" stroke-linejoin="round" stroke-linecap="round"/>
<path d="M1029.0,94.8 L1028.5,47.4" fill="none" stroke="#000" stroke-width="3.4" stroke-linejoin="round" stroke-linecap="round" />
<path d="M1029.2,287.0 L1029.0,341.3" fill="none" stroke="#000" stroke-width="3.4" stroke-linejoin="round" stroke-linecap="round" />
<path d="M1029.00,341.30 L1027.03,341.69 L1025.32,342.09 L1024.10,342.48 L1023.53,342.88 L1023.69,343.27 L1024.55,343.67 L1026.00,344.06 L1027.86,344.45 L1029.86,344.85 L1031.75,345.24 L1033.27,345.64 L1034.23,346.03 L1034.49,346.42 L1034.02,346.82 L1032.89,347.21 L1031.24,347.61 L1029.29,348.00 L1027.30,348.40 L1025.54,348.79 L1024.24,349.18 L1023.57,349.58 L1023.62,349.97 L1024.39,350.37 L1025.77,350.76 L1027.58,351.15 L1029.57,351.55 L1031.50,351.94 L1033.09,352.34 L1034.13,352.73 L1034.50,353.12 L1034.13,353.52 L1033.09,353.91 L1031.50,354.31 L1029.57,354.70 L1027.58,355.10 L1025.77,355.49 L1024.39,355.88 L1023.62,356.28 L1023.57,356.67 L1024.24,357.07 L1025.54,357.46 L1027.30,357.86 L1029.29,358.25 L1031.24,358.64 L1032.89,359.04 L1034.02,359.43 L1034.49,359.83 L1034.23,360.22 L1033.27,360.61 L1031.75,361.01 L1029.86,361.40 L1027.86,361.80 L1026.00,362.19 L1024.55,362.59 L1023.69,362.98 L1023.53,363.37 L1024.10,363.77 L1025.32,364.16 L1027.03,364.56 L1029.00,364.95 L1030.97,365.34 L1032.68,365.74 L1033.90,366.13 L1034.47,366.53 L1034.31,366.92 L1033.45,367.31 L1032.00,367.71 L1030.14,368.10 L1028.14,368.50 L1026.25,368.89 L1024.73,369.29 L1023.77,369.68 L1023.51,370.07 L1023.98,370.47 L1025.11,370.86 L1026.76,371.26 L1028.71,371.65 L1030.70,372.05 L1032.46,372.44 L1033.76,372.83 L1034.43,373.23 L1034.38,373.62 L1033.61,374.02 L1032.23,374.41 L1030.42,374.80 L1028.43,375.20 L1026.50,375.59 L1024.91,375.99 L1023.87,376.38 L1023.50,376.78 L1023.87,377.17 L1024.91,377.56 L1026.50,377.96 L1028.43,378.35 L1030.42,378.75 L1032.23,379.14 L1033.61,379.53 L1034.38,379.93 L1034.43,380.32 L1033.76,380.72 L1032.46,381.11 L1030.70,381.50 L1028.71,381.90 L1026.76,382.29 L1025.11,382.69 L1023.98,383.08 L1023.51,383.48 L1023.77,383.87 L1024.73,384.26 L1026.25,384.66 L1028.14,385.05 L1030.14,385.45 L1032.00,385.84 L1033.45,386.24 L1034.31,386.63 L1034.47,387.02 L1033.90,387.42 L1032.68,387.81 L1030.97,388.21 L1029.00,388.60" fill="none" stroke="#000" stroke-width="2.8" stroke-linejoin="round" stroke-linecap="round"/>
<circle cx="66.3" cy="236.2" r="3.8" fill="none" stroke="#000" stroke-width="2.8"/>
<circle cx="66.4" cy="320" r="3.8" fill="none" stroke="#000" stroke-width="2.8"/>
<path stroke-width="3.4" d="M70.1,236.4 L115.3,236.4 L115.3,249.5 Q115.3,252 118,253.5 Q124.2,256 124.2,261 L124.2,297 Q124.2,301 119,303.5 Q115.3,305 115.3,309 L115.3,319 L70.2,319" fill="none" stroke="#000" stroke-linejoin="round"/>
<ellipse cx="115.5" cy="265.4" rx="6.3" ry="3.1" fill="none" stroke="#000" stroke-width="3"/>
<ellipse cx="115.5" cy="278.3" rx="6.3" ry="3.1" fill="none" stroke="#000" stroke-width="3"/>
<ellipse cx="115.5" cy="291.2" rx="6.3" ry="3.1" fill="none" stroke="#000" stroke-width="3"/>
<path stroke-width="3.4" d="M188,236.4 L156,236.4 L156,249.5 Q156,252 153.3,253.5 Q147.6,256 147.6,261 L147.6,297 Q147.6,301 152.8,303.5 Q156.5,305 156.5,309 L156.5,319 L188.5,319" fill="none" stroke="#000" stroke-linejoin="round"/>
<ellipse cx="156" cy="265.4" rx="6.3" ry="3.1" fill="none" stroke="#000" stroke-width="3"/>
<ellipse cx="156" cy="278.3" rx="6.3" ry="3.1" fill="none" stroke="#000" stroke-width="3"/>
<ellipse cx="156" cy="291.2" rx="6.3" ry="3.1" fill="none" stroke="#000" stroke-width="3"/>
<path d="M135.5,245.4 L136.8,309.5" fill="none" stroke="#000" stroke-width="2.8" stroke-linejoin="round" stroke-linecap="round" />
<rect x="130.8" y="310.8" width="13" height="7" rx="2.5" fill="none" stroke="#000" stroke-width="2.8"/>
<path d="M93.5,225.1 L173.6,225.1 L173.6,330 L93.5,330 Z" fill="none" stroke="#000" stroke-width="3" stroke-dasharray="8,3"/>
<text x="63.4" y="50.6" font-size="14" font-weight="bold" textLength="20.8" lengthAdjust="spacingAndGlyphs" stroke="#000" stroke-width="0.75">+9</text>
<text x="90.3" y="50.6" font-size="14" font-weight="bold" textLength="17.1" lengthAdjust="spacingAndGlyphs" stroke="#000" stroke-width="0.75">TO</text>
<text x="111.8" y="50.6" font-size="14" font-weight="bold" textLength="32.0" lengthAdjust="spacingAndGlyphs" stroke="#000" stroke-width="0.75">+12V</text>
<text x="194.6" y="119.0" font-size="14" font-weight="bold" textLength="39.7" lengthAdjust="spacingAndGlyphs" stroke="#000" stroke-width="0.75">27k&#937;</text>
<text x="311.5" y="119.3" font-size="14" font-weight="bold" textLength="37.1" lengthAdjust="spacingAndGlyphs" stroke="#000" stroke-width="0.75">10k&#937;</text>
<text x="247.4" y="181.2" font-size="14" font-weight="bold" textLength="14.2" lengthAdjust="spacingAndGlyphs" stroke="#000" stroke-width="0.75">Q1</text>
<text x="323.7" y="159.4" font-size="14" font-weight="bold" textLength="39.1" lengthAdjust="spacingAndGlyphs" stroke="#000" stroke-width="0.75">.05&#181;F</text>
<text x="380.7" y="204.0" font-size="14" font-weight="bold" textLength="47.3" lengthAdjust="spacingAndGlyphs" stroke="#000" stroke-width="0.75">1N4001</text>
<text x="471.9" y="211.1" font-size="14" font-weight="bold" textLength="33.8" lengthAdjust="spacingAndGlyphs" stroke="#000" stroke-width="0.75">15k&#937;</text>
<text x="471.9" y="223.8" font-size="14" font-weight="bold" textLength="40.0" lengthAdjust="spacingAndGlyphs" stroke="#000" stroke-width="0.75">SENS.</text>
<text x="581.7" y="88.8" font-size="14" font-weight="bold" textLength="25.6" lengthAdjust="spacingAndGlyphs" stroke="#000" stroke-width="0.75">2&#181;F</text>
<text x="608.9" y="107.8" font-size="14" font-weight="bold" textLength="9.5" lengthAdjust="spacingAndGlyphs" stroke="#000" stroke-width="0.75">+</text>
<text x="665.4" y="85.1" font-size="14" font-weight="bold" textLength="41.2" lengthAdjust="spacingAndGlyphs" stroke="#000" stroke-width="0.75">3.3k&#937;</text>
<text x="666.4" y="151.8" font-size="14" font-weight="bold" textLength="42.0" lengthAdjust="spacingAndGlyphs" stroke="#000" stroke-width="0.75">330&#937;</text>
<text x="679.6" y="176.3" font-size="14" font-weight="bold" textLength="39.2" lengthAdjust="spacingAndGlyphs" stroke="#000" stroke-width="0.75">1.8k&#937;</text>
<text x="601.3" y="181.1" font-size="14" font-weight="bold" textLength="17.2" lengthAdjust="spacingAndGlyphs" stroke="#000" stroke-width="0.75">Q2</text>
<text x="783.4" y="181.2" font-size="14" font-weight="bold" textLength="18.0" lengthAdjust="spacingAndGlyphs" stroke="#000" stroke-width="0.75">Q3</text>
<text x="846.9" y="119.3" font-size="14" font-weight="bold" textLength="42.8" lengthAdjust="spacingAndGlyphs" stroke="#000" stroke-width="0.75">3.9k&#937;</text>
<text x="854.3" y="153.8" font-size="14" font-weight="bold" textLength="47.1" lengthAdjust="spacingAndGlyphs" stroke="#000" stroke-width="0.75">1N4001</text>
<text x="972.6" y="181.6" font-size="14" font-weight="bold" textLength="19.9" lengthAdjust="spacingAndGlyphs" stroke="#000" stroke-width="0.75">Q4</text>
<text x="1004.6" y="119.5" font-size="14" font-weight="bold" textLength="7.8" lengthAdjust="spacingAndGlyphs" stroke="#000" stroke-width="1.2">R</text>
<text x="1014.9" y="123.4" font-size="10" font-weight="bold" textLength="6.2" lengthAdjust="spacingAndGlyphs" stroke="#000" stroke-width="0.75">L</text>
<text x="29.5" y="284.4" font-size="14" font-weight="bold" textLength="41.2" lengthAdjust="spacingAndGlyphs" stroke="#000" stroke-width="0.75">INPUT</text>
<text x="125.4" y="218.6" font-size="14" font-weight="bold" textLength="14.2" lengthAdjust="spacingAndGlyphs" stroke="#000" stroke-width="0.75">T1</text>
<text x="222.4" y="336.8" font-size="14" font-weight="bold" textLength="29.3" lengthAdjust="spacingAndGlyphs" stroke="#000" stroke-width="0.75">15&#181;F</text>
<text x="220.4" y="355.6" font-size="14" font-weight="bold" textLength="9.2" lengthAdjust="spacingAndGlyphs" stroke="#000" stroke-width="0.75">+</text>
<text x="265.4" y="328.5" font-size="14" font-weight="bold" textLength="32.6" lengthAdjust="spacingAndGlyphs" stroke="#000" stroke-width="0.75">68&#937;</text>
<text x="132.8" y="401.4" font-size="14" font-weight="bold" textLength="46.0" lengthAdjust="spacingAndGlyphs" stroke="#000" stroke-width="0.75">3.9k&#937;</text>
<text x="312.8" y="401.3" font-size="14" font-weight="bold" textLength="25.9" lengthAdjust="spacingAndGlyphs" stroke="#000" stroke-width="0.75">1k&#937;</text>
<text x="393.7" y="309.3" font-size="14" font-weight="bold" textLength="46.8" lengthAdjust="spacingAndGlyphs" stroke="#000" stroke-width="0.75">1N4001</text>
<text x="848.2" y="370.2" font-size="14" font-weight="bold" textLength="41.2" lengthAdjust="spacingAndGlyphs" stroke="#000" stroke-width="0.75">270&#937;</text>
<text x="987.4" y="369.8" font-size="14" font-weight="bold" textLength="32.2" lengthAdjust="spacingAndGlyphs" stroke="#000" stroke-width="0.75">33&#937;</text>
<text x="426.2" y="383.1" font-size="14" font-weight="bold" textLength="43.1" lengthAdjust="spacingAndGlyphs" stroke="#000" stroke-width="1.1">Q1,2,3</text>
<text x="488.9" y="383.1" font-size="14" font-weight="bold" textLength="26.3" lengthAdjust="spacingAndGlyphs" stroke="#000" stroke-width="1.1">MPS</text>
<text x="521.8" y="383.1" font-size="14" font-weight="bold" textLength="35.3" lengthAdjust="spacingAndGlyphs" stroke="#000" stroke-width="1.1">2923</text>
<text x="564.8" y="383.1" font-size="14" font-weight="bold" textLength="17.4" lengthAdjust="spacingAndGlyphs" stroke="#000" stroke-width="1.1">OR</text>
<text x="590.0" y="383.1" font-size="14" font-weight="bold" textLength="55.5" lengthAdjust="spacingAndGlyphs" stroke="#000" stroke-width="1.1">2N2925</text>
<text x="451.9" y="400.2" font-size="14" font-weight="bold" textLength="18.5" lengthAdjust="spacingAndGlyphs" stroke="#000" stroke-width="1.1">Q4</text>
<text x="488.2" y="400.2" font-size="14" font-weight="bold" textLength="26.9" lengthAdjust="spacingAndGlyphs" stroke="#000" stroke-width="1.1">RCA</text>
<text x="521.8" y="400.2" font-size="14" font-weight="bold" textLength="46.5" lengthAdjust="spacingAndGlyphs" stroke="#000" stroke-width="1.1">40347</text>
<text x="456.9" y="414.4" font-size="14" font-weight="bold" textLength="11.2" lengthAdjust="spacingAndGlyphs" stroke="#000" stroke-width="1.1">T1</text>
<text x="488.2" y="414.4" font-size="14" font-weight="bold" textLength="58.7" lengthAdjust="spacingAndGlyphs" stroke="#000" stroke-width="1.1">DESIRED</text>
<text x="554.8" y="414.4" font-size="14" font-weight="bold" textLength="75.7" lengthAdjust="spacingAndGlyphs" stroke="#000" stroke-width="1.1">RESONANT</text>
<text x="638.8" y="414.4" font-size="14" font-weight="bold" textLength="38.1" lengthAdjust="spacingAndGlyphs" stroke="#000" stroke-width="1.1">REED</text>
<rect x="473.2" y="376.9" width="9.5" height="3.4" fill="#000"/>
<rect x="473.2" y="393.9" width="10.1" height="3.4" fill="#000"/>
<rect x="473.8" y="408.1" width="10.6" height="3.4" fill="#000"/>
</svg>
</body></html>
